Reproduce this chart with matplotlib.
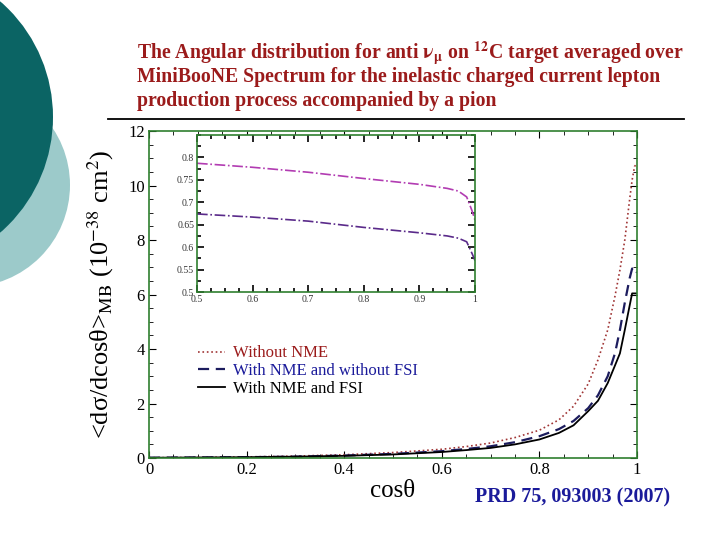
import matplotlib
matplotlib.use("Agg")
import matplotlib.pyplot as plt
from matplotlib.patches import Circle
from matplotlib.ticker import MultipleLocator

plt.rcParams["font.family"] = ["Liberation Serif", "DejaVu Serif"]
plt.rcParams["mathtext.fontset"] = "stix"

# ── data ────────────────────────────────────────────────────────────────
cos_theta = [0.0, 0.1, 0.2, 0.3, 0.4, 0.5, 0.6, 0.65, 0.7, 0.75, 0.8, 0.84,
             0.87, 0.9, 0.92, 0.94, 0.955, 0.965, 0.975, 0.985, 0.99, 0.995, 1.0]
without_nme = [0.01, 0.02, 0.04, 0.07, 0.12, 0.2, 0.32, 0.42, 0.55, 0.75, 1.02,
               1.4, 1.9, 2.72, 3.6, 4.7, 5.95, 6.9, 8.0, 9.5, 10.2, 10.7, 10.8]
nme_no_fsi = [0.01, 0.02, 0.03, 0.05, 0.09, 0.15, 0.25, 0.33, 0.43, 0.58, 0.8,
              1.06, 1.36, 1.83, 2.3, 3.0, 3.85, 4.7, 5.7, 6.6, 6.95, 7.0, 6.8]
nme_fsi = [0.01, 0.02, 0.03, 0.05, 0.08, 0.13, 0.22, 0.29, 0.37, 0.5, 0.68,
           0.92, 1.2, 1.72, 2.1, 2.75, 3.4, 3.84, 4.7, 5.6, 6.04, 6.04, 6.04]

inset_x = [0.5, 0.6, 0.7, 0.8, 0.9, 0.95, 0.97, 0.985, 0.995, 1.0]
inset_upper = [0.787, 0.778, 0.767, 0.753, 0.740, 0.731, 0.725, 0.712, 0.68, 0.66]
inset_lower = [0.674, 0.667, 0.658, 0.644, 0.632, 0.625, 0.620, 0.612, 0.585, 0.57]

TITLE = ["The Angular distribution for anti $\\mathbf{\\nu_{\\mu}}$ on $^{\\mathbf{12}}$C target averaged over",
         "MiniBooNE Spectrum for the inelastic charged current lepton",
         "production process accompanied by a pion"]
LABELS = ["Without NME", "With NME and without FSI", "With NME and FSI"]
FRAME = "#2f7f2f"
RED = "#9b1b1b"
NAVY = "#1a1a9a"

fig = plt.figure(figsize=(7.2, 5.4), dpi=100, facecolor="white")

# ── slide decoration (pixel coords) ─────────────────────────────────────
bg = fig.add_axes([0, 0, 1, 1], zorder=-5)
bg.set_xlim(0, 720); bg.set_ylim(540, 0); bg.axis("off")
bg.add_patch(Circle((-32, 185), 102, color="#9ccaca", lw=0))
bg.add_patch(Circle((-100, 117), 153, color="#0b6464", lw=0))
bg.plot([108, 684], [119, 119], color="black", lw=1.3)

for i, line in enumerate(TITLE):
    fig.text(137 / 720, 1 - (53 + 24 * i) / 540, line, color=RED, fontsize=14.2,
             fontweight="bold", va="center", ha="left")

# ── main plot ───────────────────────────────────────────────────────────
ax = fig.add_axes([149 / 720, 82 / 540, 488 / 720, 327 / 540])
ax.plot(cos_theta, without_nme, ls=":", color="#a03535", lw=1.2, label=LABELS[0])
ax.plot(cos_theta, nme_no_fsi, ls=(0, (5, 3)), color="#1c1c5e", lw=1.6, label=LABELS[1])
ax.plot(cos_theta, nme_fsi, ls="-", color="black", lw=1.3, label=LABELS[2])
ax.set_xlim(0, 1); ax.set_ylim(0, 12)
ax.xaxis.set_major_locator(MultipleLocator(0.2)); ax.xaxis.set_minor_locator(MultipleLocator(0.05))
ax.yaxis.set_major_locator(MultipleLocator(2)); ax.yaxis.set_minor_locator(MultipleLocator(0.5))
ax.set_xticks([0, 0.2, 0.4, 0.6, 0.8, 1.0], ["0", "0.2", "0.4", "0.6", "0.8", "1"])
ax.tick_params(which="both", direction="in", top=True, right=True, labelsize=12, pad=3)
ax.tick_params(which="major", length=5)
ax.tick_params(which="minor", length=3)
for s in ax.spines.values():
    s.set_color(FRAME); s.set_linewidth(1.2)
ax.set_xlabel("cosθ", fontsize=18, labelpad=1)
ax.set_ylabel("<dσ/dcosθ>$_{\\mathrm{MB}}$ (10$^{-38}$ cm$^{2}$)", fontsize=19, labelpad=9)
ax.legend(loc="upper left", bbox_to_anchor=(0.07, 0.39), frameon=False, fontsize=12,
          handlelength=1.6, handletextpad=0.5, labelspacing=0.1,
          labelcolor=[RED, NAVY, "black"])

# ── inset ───────────────────────────────────────────────────────────────
ins = fig.add_axes([197 / 720, 248 / 540, 278 / 720, 157 / 540])
ins.plot(inset_x, inset_upper, ls="-.", color="#b23cb2", lw=1.2)
ins.plot(inset_x, inset_lower, ls="-.", color="#5a2a8a", lw=1.2)
ins.set_xlim(0.5, 1); ins.set_ylim(0.5, 0.85)
ins.set_xticks([0.5, 0.6, 0.7, 0.8, 0.9, 1.0], ["0.5", "0.6", "0.7", "0.8", "0.9", "1"])
ins.set_yticks([0.5, 0.55, 0.6, 0.65, 0.7, 0.75, 0.8],
               ["0.5", "0.55", "0.6", "0.65", "0.7", "0.75", "0.8"])
ins.xaxis.set_minor_locator(MultipleLocator(0.025))
ins.yaxis.set_minor_locator(MultipleLocator(0.025))
ins.tick_params(which="both", direction="in", top=True, right=True, labelsize=7,
                pad=2, labelcolor="#333333")
ins.tick_params(which="major", length=5, width=1.2)
ins.tick_params(which="minor", length=3, width=1.2)
for s in ins.spines.values():
    s.set_color(FRAME); s.set_linewidth(1.2)

fig.text(475 / 720, 1 - 497 / 540, "PRD 75, 093003 (2007)", color=NAVY, fontsize=14.5,
         fontweight="bold", va="center", ha="left")

fig.savefig("out.png", dpi=100)
